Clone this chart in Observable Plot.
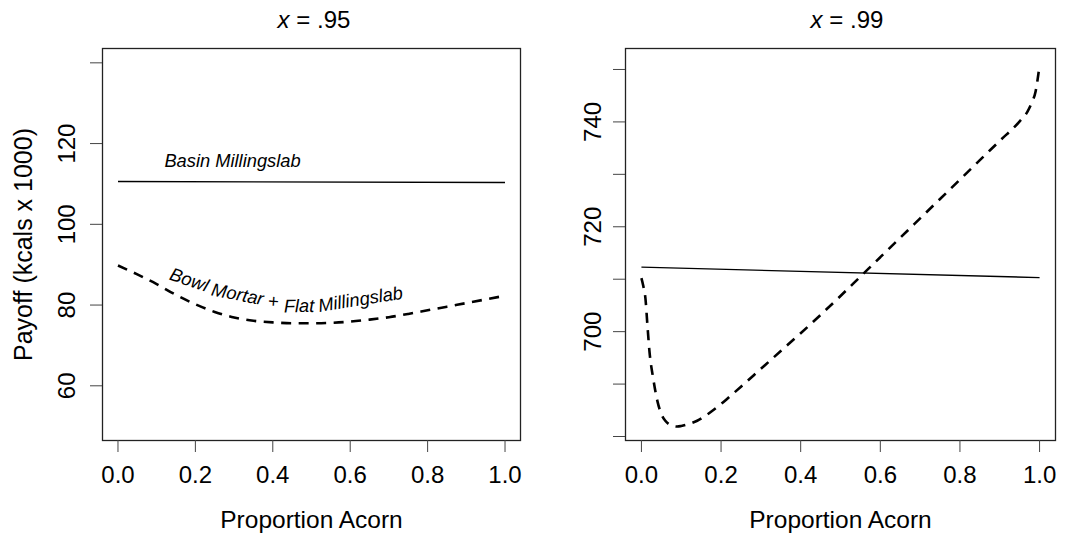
<!DOCTYPE html>
<html>
<head>
<meta charset="utf-8">
<script src="https://cdn.jsdelivr.net/npm/d3@7"></script>
<script src="https://cdn.jsdelivr.net/npm/@observablehq/plot@0.6"></script>
<style>
html, body { margin: 0; padding: 0; background: #fff; }
#chart { display: flex; width: 1065px; height: 540px; }
</style>
</head>
<body>
<div id="chart"></div>
<script>
// ---------- data ----------
const panelTitleVar = ["x", "x"];
const panelTitleRest = ["= .95", "= .99"];
const xLabel = "Proportion Acorn";
const yLabel = "Payoff (kcals x 1000)";
const xTicks = [0, 0.2, 0.4, 0.6, 0.8, 1.0];
const xDomain = [-0.04, 1.04];

// panel x = .95
const basinX95 = [0, 1];
const basin95 = [110.6, 110.35];
const bowlX95 = [0, 0.05, 0.1, 0.15, 0.2, 0.25, 0.3, 0.35, 0.4, 0.45, 0.5, 0.55, 0.6, 0.65, 0.7, 0.75, 0.8, 0.85, 0.9, 0.95, 1.0];
const bowl95 = [89.8, 87.6, 85.2, 82.5, 80.2, 78.3, 76.9, 76.1, 75.7, 75.5, 75.5, 75.6, 75.9, 76.4, 77.0, 77.8, 78.7, 79.6, 80.5, 81.4, 82.3];
const yDomain95 = [46.45, 143.55];
const yTicks95 = [60, 80, 100, 120, 140];
const yTickLabels95 = [60, 80, 100, 120];

// panel x = .99
const basinX99 = [0, 1];
const basin99 = [712.3, 710.3];
const bowlX99 = [0, 0.005, 0.01, 0.015, 0.02, 0.03, 0.04, 0.05, 0.06, 0.07, 0.08, 0.09, 0.1, 0.12, 0.14, 0.16, 0.18, 0.2, 0.22, 0.25, 0.3, 0.35, 0.4, 0.45, 0.5, 0.55, 0.6, 0.65, 0.7, 0.75, 0.8, 0.85, 0.9, 0.95, 0.97, 0.98, 0.99, 1.0];
const bowl99 = [710.2, 708.6, 706.4, 701.3, 696.4, 690.9, 686.8, 684.3, 683.0, 682.3, 682.0, 681.9, 682.0, 682.4, 683.0, 683.9, 685.0, 686.2, 687.5, 689.5, 692.9, 696.3, 699.7, 703.2, 706.8, 710.5, 714.2, 717.9, 721.6, 725.3, 729.0, 732.7, 736.4, 740.1, 742.0, 743.6, 745.8, 750.8];
const yDomain99 = [679.24, 754.0];
const yTicks99 = [680, 690, 700, 710, 720, 730, 740, 750];
const yTickLabels99 = [700, 720, 740];

// annotations (left panel)
const basinLabel = "Basin Millingslab";
const basinLabelX = 0.12;
const basinLabelY = 114.1;
const bowlLabelWords = ["Bowl", "Mortar", "+", "Flat", "Millingslab"];
const bowlLabelX = [0.179, 0.306, 0.400, 0.468, 0.629];
const bowlLabelY = [84.8, 81.2, 79.4, 78.25, 79.96];
const bowlLabelAngle = [19, 11, 4, -1, -9];

// ---------- drawing ----------
const FONT = "'Liberation Sans', Arial, Helvetica, sans-serif";
const pts = (xs, ys) => xs.map((x, i) => ({x, y: ys[i]}));

function panel({width, marginLeft, marginRight, yDomain, yTicks, yTickLabels, titleIdx, titleShift, tickLabelDx, showYLabel, lines, extra}) {
  const marks = [
    Plot.frame({stroke: "#222", strokeWidth: 1.3}),
    Plot.axisX({ticks: xTicks, tickSize: 12, tickPadding: 13, tickFormat: d3.format(".1f"), label: null, fontSize: 24, stroke: "#444", fill: "#000"}),
    Plot.axisY({ticks: yTicks, tickSize: 12, fill: "none", label: null, stroke: "#444"}),
    Plot.text(yTickLabels, {y: d => d, text: d => String(d), frameAnchor: "left", dx: tickLabelDx, rotate: -90, textAnchor: "middle", lineAnchor: "bottom", fontSize: 24, fill: "#000"}),
    Plot.text([panelTitleVar[titleIdx]], {text: d => d, frameAnchor: "top", textAnchor: "end", lineAnchor: "bottom", dy: -21, dx: titleShift - 24.4, fontStyle: "italic", fontSize: 24, fill: "#000"}),
    Plot.text([panelTitleRest[titleIdx]], {text: d => d, frameAnchor: "top", textAnchor: "start", lineAnchor: "bottom", dy: -21, dx: titleShift - 17.7, fontSize: 24, fill: "#000"}),
    Plot.text([xLabel], {text: d => d, frameAnchor: "bottom", textAnchor: "middle", lineAnchor: "bottom", dy: 87.5, fontSize: 24.5, fill: "#000"}),
    ...lines,
    ...extra
  ];
  if (showYLabel) {
    marks.push(Plot.text([yLabel], {text: d => d, frameAnchor: "left", dx: -70.3, rotate: -90, textAnchor: "middle", lineAnchor: "bottom", fontSize: 25, fill: "#000"}));
  }
  return Plot.plot({
    width, height: 540,
    marginLeft, marginRight, marginTop: 48, marginBottom: 100,
    style: {fontFamily: FONT, fontSize: "24px", color: "#000", background: "#fff", overflow: "visible"},
    x: {domain: xDomain},
    y: {domain: yDomain},
    marks
  });
}

const solid = (data) => Plot.line(data, {x: "x", y: "y", stroke: "#000", strokeWidth: 1.4, strokeLinecap: "butt"});
const dashed = (data) => Plot.line(data, {x: "x", y: "y", stroke: "#000", strokeWidth: 2.6, strokeDasharray: "10,7.5", strokeLinecap: "butt", curve: "monotone-x"});

const bowlWords = bowlLabelWords.map((w, i) => ({w, x: bowlLabelX[i], y: bowlLabelY[i], a: bowlLabelAngle[i]}));

const left = panel({
  width: 532, marginLeft: 102, marginRight: 12,
  yDomain: yDomain95, yTicks: yTicks95, yTickLabels: yTickLabels95,
  titleIdx: 0, titleShift: 2.5, tickLabelDx: -28, showYLabel: true,
  lines: [solid(pts(basinX95, basin95)), dashed(pts(bowlX95, bowl95))],
  extra: [
    Plot.text([basinLabel], {x: () => basinLabelX, y: () => basinLabelY, text: d => d, textAnchor: "start", lineAnchor: "bottom", fontStyle: "italic", fontSize: 18.3, fill: "#000"}),
    Plot.text(bowlWords, {x: "x", y: "y", text: "w", rotate: "a", textAnchor: "middle", lineAnchor: "bottom", fontStyle: "italic", fontSize: 18.3, fill: "#000"})
  ]
});

const right = panel({
  width: 533, marginLeft: 93, marginRight: 10,
  yDomain: yDomain99, yTicks: yTicks99, yTickLabels: yTickLabels99,
  titleIdx: 1, titleShift: 6.5, tickLabelDx: -25, showYLabel: false,
  lines: [solid(pts(basinX99, basin99)), dashed(pts(bowlX99, bowl99))],
  extra: []
});

document.getElementById("chart").append(left, right);
</script>
</body>
</html>
